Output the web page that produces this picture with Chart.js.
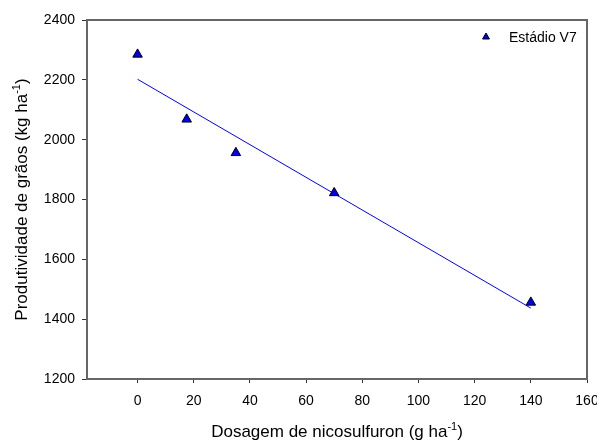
<!DOCTYPE html>
<html>
<head>
<meta charset="utf-8">
<script src="https://cdn.jsdelivr.net/npm/chart.js@4.4.1/dist/chart.umd.min.js"></script>
<style>
html, body { margin: 0; padding: 0; background: #fff; }
#wrap { width: 597px; height: 441px; }
</style>
</head>
<body>
<div id="wrap"><canvas id="chart" width="597" height="441"></canvas></div>
<script>
// observed points (dose in g ha-1, yield in kg ha-1)
const doses = [0, 17.5, 35, 70, 140];
const yields = [2285, 2068, 1956, 1822, 1456];
// fitted line
const fitDoses = [0, 140];
const fitYields = [2202, 1437];
const xTicks = [0, 20, 40, 60, 80, 100, 120, 140, 160];
const yTicks = [1200, 1400, 1600, 1800, 2000, 2200, 2400];
const seriesLabel = 'Estádio V7';

const FONT = '"Liberation Sans", Arial, sans-serif';
const BLUE = '#0000ee';

// draw a title with a superscript part, centred on (0,0) of the current transform
function drawSupText(ctx, parts) {
    let total = 0;
    parts.forEach(p => {
        ctx.font = (p[1] ? '11px ' : '17px ') + FONT;
        total += ctx.measureText(p[0]).width;
    });
    let x = -total / 2;
    parts.forEach(p => {
        ctx.font = (p[1] ? '11px ' : '17px ') + FONT;
        ctx.fillText(p[0], x, p[1] ? -7 : 0);
        x += ctx.measureText(p[0]).width;
    });
}

const decorPlugin = {
    id: 'decor',
    beforeDatasetsDraw(chart) {
        const ctx = chart.ctx;
        const a = chart.chartArea;
        ctx.save();
        ctx.strokeStyle = '#666';
        ctx.lineWidth = 2;
        ctx.beginPath();
        ctx.moveTo(a.left - 1, a.top);
        ctx.lineTo(a.right, a.top);
        ctx.lineTo(a.right, a.bottom + 1);
        ctx.stroke();
        ctx.restore();
    },
    afterDraw(chart) {
        const ctx = chart.ctx;
        const a = chart.chartArea;
        ctx.save();
        ctx.fillStyle = '#000';
        ctx.textBaseline = 'alphabetic';

        // x title
        ctx.save();
        ctx.translate((a.left + a.right) / 2, 437);
        drawSupText(ctx, [['Dosagem de nicosulfuron (g ha', false], ['-1', true], [')', false]]);
        ctx.restore();

        // y title
        ctx.save();
        ctx.translate(27, (a.top + a.bottom) / 2);
        ctx.rotate(-Math.PI / 2);
        drawSupText(ctx, [['Produtividade de grãos (kg ha', false], ['-1', true], [')', false]]);
        ctx.restore();

        // legend
        ctx.fillStyle = BLUE;
        ctx.strokeStyle = '#000';
        Chart.helpers.drawPoint(ctx, { pointStyle: 'triangle', radius: 4, borderWidth: 1, rotation: 0 }, a.right - 101, a.top + 17);
        ctx.fillStyle = '#000';
        ctx.font = '14px ' + FONT;
        ctx.textBaseline = 'middle';
        ctx.fillText(seriesLabel, a.right - 78, a.top + 18);
        ctx.restore();
    }
};

const ctx = document.getElementById('chart').getContext('2d');
new Chart(ctx, {
    type: 'scatter',
    data: {
        datasets: [{
            label: seriesLabel,
            data: doses.map((d, i) => ({ x: d, y: yields[i] })),
            pointStyle: 'triangle',
            pointRadius: 5.5,
            backgroundColor: BLUE,
            borderColor: '#000',
            borderWidth: 1,
            order: 0
        }, {
            type: 'line',
            label: 'ajuste',
            data: fitDoses.map((d, i) => ({ x: d, y: fitYields[i] })),
            borderColor: '#0000ff',
            borderWidth: 1,
            pointRadius: 0,
            fill: false,
            order: 1
        }]
    },
    options: {
        responsive: false,
        animation: false,
        events: [],
        layout: { padding: { top: 20, right: 10, left: 0, bottom: 0 } },
        plugins: {
            legend: { display: false },
            tooltip: { enabled: false }
        },
        scales: {
            x: {
                type: 'linear',
                min: -18,
                max: 160,
                afterBuildTicks: s => { s.ticks = xTicks.map(v => ({ value: v })); },
                afterFit: s => { s.height = 62; s.paddingLeft = 0; s.paddingRight = 0; },
                ticks: { font: { family: FONT, size: 14 }, color: '#000', padding: 10, maxRotation: 0, callback: v => String(v) },
                grid: { drawOnChartArea: false, tickLength: 4, color: '#333', lineWidth: 1 },
                border: { color: '#666', width: 2 }
            },
            y: {
                type: 'linear',
                min: 1200,
                max: 2400,
                afterBuildTicks: s => { s.ticks = yTicks.map(v => ({ value: v })); },
                afterFit: s => { s.width = 87; s.paddingTop = 0; s.paddingBottom = 0; },
                ticks: { font: { family: FONT, size: 14 }, color: '#000', padding: 7, callback: v => String(v) },
                grid: { drawOnChartArea: false, tickLength: 5, color: '#333', lineWidth: 1 },
                border: { color: '#666', width: 2 }
            }
        }
    },
    plugins: [decorPlugin]
});
</script>
</body>
</html>
